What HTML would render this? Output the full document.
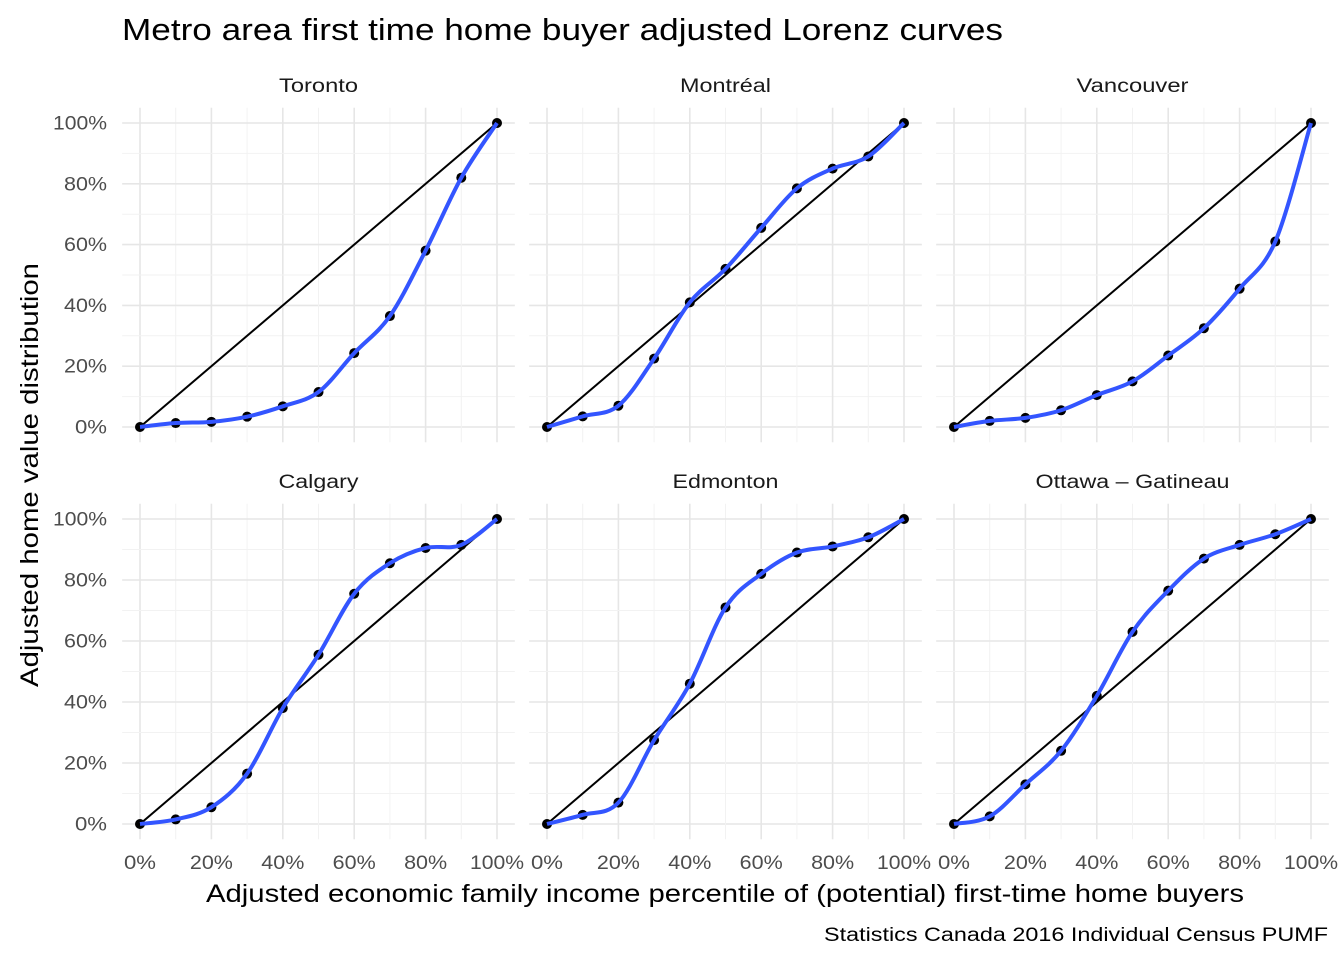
<!DOCTYPE html>
<html><head><meta charset="utf-8"><style>
body{margin:0;background:#fff}
svg text{font-family:"Liberation Sans",Arial,sans-serif}
</style></head><body>
<svg id="s" width="1344" height="960" xmlns="http://www.w3.org/2000/svg">
<rect width="1344" height="960" fill="#fff"/>
<text x="122" y="40" font-size="31" textLength="881" lengthAdjust="spacingAndGlyphs" fill="#000">Metro area first time home buyer adjusted Lorenz curves</text>
<text transform="translate(38,475) rotate(-90)" font-size="25" text-anchor="middle" textLength="424" lengthAdjust="spacingAndGlyphs" fill="#000">Adjusted home value distribution</text>
<text x="725" y="902" font-size="25" text-anchor="middle" textLength="1038" lengthAdjust="spacingAndGlyphs" fill="#000">Adjusted economic family income percentile of (potential) first-time home buyers</text>
<text x="1328" y="941" font-size="19" text-anchor="end" textLength="504" lengthAdjust="spacingAndGlyphs" fill="#000">Statistics Canada 2016 Individual Census PUMF</text>
<g id="g"></g>
</svg>
<script>
const panels=[
["Toronto",0,0,[0,1.3,1.7,3.4,6.8,11.5,24.3,36.5,58,82,100],79],
["Montréal",1,0,[0,3.5,7,22.5,41,52,65.5,78.5,85,89,100],91],
["Vancouver",2,0,[0,2,3,5.5,10.5,15,23.5,32.5,45.5,61,100],112],
["Calgary",0,1,[0,1.5,5.5,16.5,38,55.5,75.5,85.5,90.5,91.5,100],80],
["Edmonton",1,1,[0,3,7,27.5,46,71,82,89,91,94,100],106],
["Ottawa – Gatineau",2,1,[0,2.5,13,24,42,63,76.5,87,91.5,95,100],194]];
let h="";
const tl=v=>(String(v).length*11+21);
for(const [name,c,r,d,nw] of panels){
 const x0=140+c*407, y0=427+r*397, sx=3.57, sy=r?3.05:3.04;
 const X=v=>x0+v*sx, Y=v=>y0-v*sy;
 const L=X(-5),R=X(105),T=Y(105),B=Y(-5);
 for(let v=0;v<=100;v+=10){
  const maj=v%20==0, col=maj?"#e6e6e6":"#f2f2f2", w=maj?1.6:1;
  h+=`<line x1="${X(v)}" x2="${X(v)}" y1="${T}" y2="${B}" stroke="${col}" stroke-width="${w}"/>`;
  h+=`<line x1="${L}" x2="${R}" y1="${Y(v)}" y2="${Y(v)}" stroke="${col}" stroke-width="${w}"/>`;
 }
 h+=`<text x="${(L+R)/2}" y="${T-16}" font-size="19" text-anchor="middle" textLength="${nw}" lengthAdjust="spacingAndGlyphs" fill="#1a1a1a">${name}</text>`;
 if(c==0) for(let v=0;v<=100;v+=20) h+=`<text x="107" y="${Y(v)+6.5}" font-size="19" text-anchor="end" textLength="${tl(v)}" lengthAdjust="spacingAndGlyphs" fill="#4d4d4d">${v}%</text>`;
 if(r==1) for(let v=0;v<=100;v+=20) h+=`<text x="${X(v)}" y="869" font-size="19" text-anchor="middle" textLength="${tl(v)}" lengthAdjust="spacingAndGlyphs" fill="#4d4d4d">${v}%</text>`;
 h+=`<line x1="${X(0)}" y1="${Y(0)}" x2="${X(100)}" y2="${Y(100)}" stroke="#000" stroke-width="2"/>`;
 const P=d.map((v,i)=>[X(i*10),Y(v)]);
 let p=`M${P[0][0]},${P[0][1]}`;
 for(let i=0;i<P.length-1;i++){
  const p0=P[Math.max(0,i-1)],p1=P[i],p2=P[i+1],p3=P[Math.min(P.length-1,i+2)];
  const t=6;
  p+=` C${p1[0]+(p2[0]-p0[0])/t},${p1[1]+(p2[1]-p0[1])/t} ${p2[0]-(p3[0]-p1[0])/t},${p2[1]-(p3[1]-p1[1])/t} ${p2[0]},${p2[1]}`;
 }
 for(const q of P) h+=`<circle cx="${q[0]}" cy="${q[1]}" r="5" fill="#000"/>`;
 h+=`<path d="${p}" fill="none" stroke="#3355ff" stroke-width="4"/>`;
}
document.getElementById("g").innerHTML=h;
</script>
</body></html>
